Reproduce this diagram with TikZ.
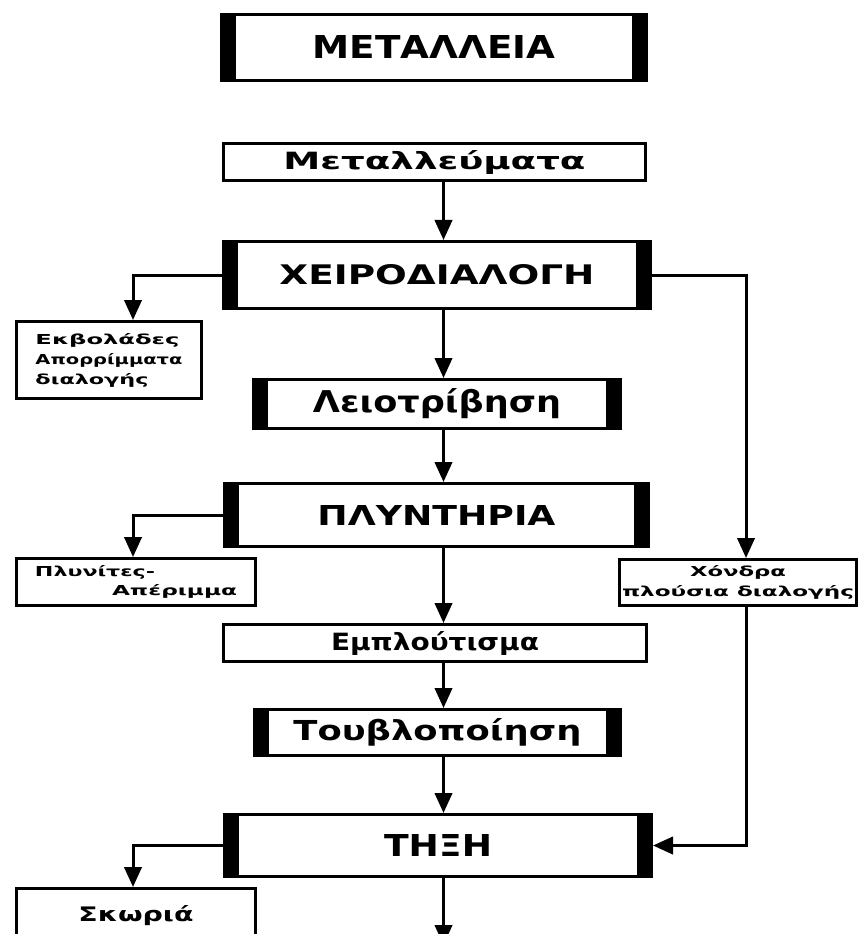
\documentclass[tikz,border=0pt]{standalone}
\usepackage{fontspec}
\setmainfont{DejaVu Sans}
\usetikzlibrary{arrows.meta}
\newcommand\tw[3]{\resizebox{#1pt}{#2pt}{#3}}
\begin{document}
\begin{tikzpicture}[x=0.75pt,y=-0.75pt,
  box/.style={draw, line width=2.25pt, inner sep=0pt, font=\bfseries},
  heavy/.style={box, line width=2.5pt,
    path picture={
      \fill (path picture bounding box.north west) rectangle ([xshift=10.5pt]path picture bounding box.south west);
      \fill (path picture bounding box.north east) rectangle ([xshift=-10.5pt]path picture bounding box.south east);}},
  small/.style={font=\fontsize{8}{15}\selectfont\bfseries},
  arr/.style={line width=2.25pt, -{Triangle[width=13pt,length=15pt]}}]
\clip (0,0) rectangle (867,934);
\useasboundingbox (0,0) rectangle (867,934);
\fill[white] (0,0) rectangle (867,934);

\coordinate (spine) at (443.5,0);
\coordinate (lcol) at (133,0);
\coordinate (rcol) at (746,0);
\coordinate (out) at (443.5,945);

\node[heavy, minimum width=318.5pt, minimum height=49.25pt] (met) at (434,47.5) {\tw{182.25}{17.25}{ΜΕΤΑΛΛΕΙΑ}};
\node[box, minimum width=316.5pt, minimum height=27.75pt] (mev) at (434.5,162) {\tw{226.5}{14.25}{Μεταλλεύματα}};
\node[heavy, minimum width=320pt, minimum height=50pt] (xei) at (437,275) {\tw{236.25}{15}{ΧΕΙΡΟΔΙΑΛΟΓΗ}};
\node[box, small, align=left, minimum width=138.75pt, minimum height=57.75pt] (ekv) at (109,360)
  {\tw{108}{8.25}{Εκβολάδες}\\\tw{110.25}{8.25}{Απορρίμματα}\\\tw{84.75}{8.25}{διαλογής}};
\node[heavy, minimum width=275pt, minimum height=36.5pt] (lei) at (437,404) {\tw{186}{18}{Λειοτρίβηση}};
\node[heavy, minimum width=317.75pt, minimum height=47pt] (ply) at (436.5,515) {\tw{178.5}{15}{ΠΛΥΝΤΗΡΙΑ}};
\node[box, small, align=left, font=\fontsize{8}{14}\selectfont\bfseries, minimum width=179.25pt, minimum height=35.25pt] (plyn) at (136,582)
  {\tw{90}{8.25}{Πλυνίτες-}\\\hspace*{57.75pt}\tw{93.75}{8.25}{Απέριμμα}};
\node[box, small, align=center, minimum width=177.75pt, minimum height=34.5pt] (xon) at (738,582.5)
  {\tw{72}{8.25}{Χόνδρα}\\\tw{174}{8.25}{πλούσια διαλογής}};
\node[box, minimum width=317.25pt, minimum height=27.75pt] (emp) at (435,643) {\tw{156}{14.25}{Εμπλούτισμα}};
\node[heavy, minimum width=274.25pt, minimum height=34.25pt] (tou) at (437.5,732.5) {\tw{216}{16.5}{Τουβλοποίηση}};
\node[heavy, minimum width=320pt, minimum height=46.25pt] (thx) at (438,845.5) {\tw{81}{16.5}{ΤΗΞΗ}};
\node[box, minimum width=179.25pt, minimum height=41.25pt] (sko) at (136,916) {\tw{86.25}{12}{Σκωριά}};

\draw[arr] (mev.south -| spine) -- (xei.north -| spine);
\draw[arr] (xei.south -| spine) -- (lei.north -| spine);
\draw[arr] (lei.south -| spine) -- (ply.north -| spine);
\draw[arr] (ply.south -| spine) -- (emp.north -| spine);
\draw[arr] (emp.south -| spine) -- (tou.north -| spine);
\draw[arr] (tou.south -| spine) -- (thx.north -| spine);
\draw[arr] (thx.south -| spine) -- (out);
\draw[arr] (xei.west) -| (lcol |- ekv.north);
\draw[arr] (xei.east) -| (rcol |- xon.north);
\draw[arr] (ply.west) -| (lcol |- plyn.north);
\draw[arr] (xon.south -| rcol) |- (thx.east);
\draw[arr] (thx.west) -| (lcol |- sko.north);
\end{tikzpicture}
\end{document}
